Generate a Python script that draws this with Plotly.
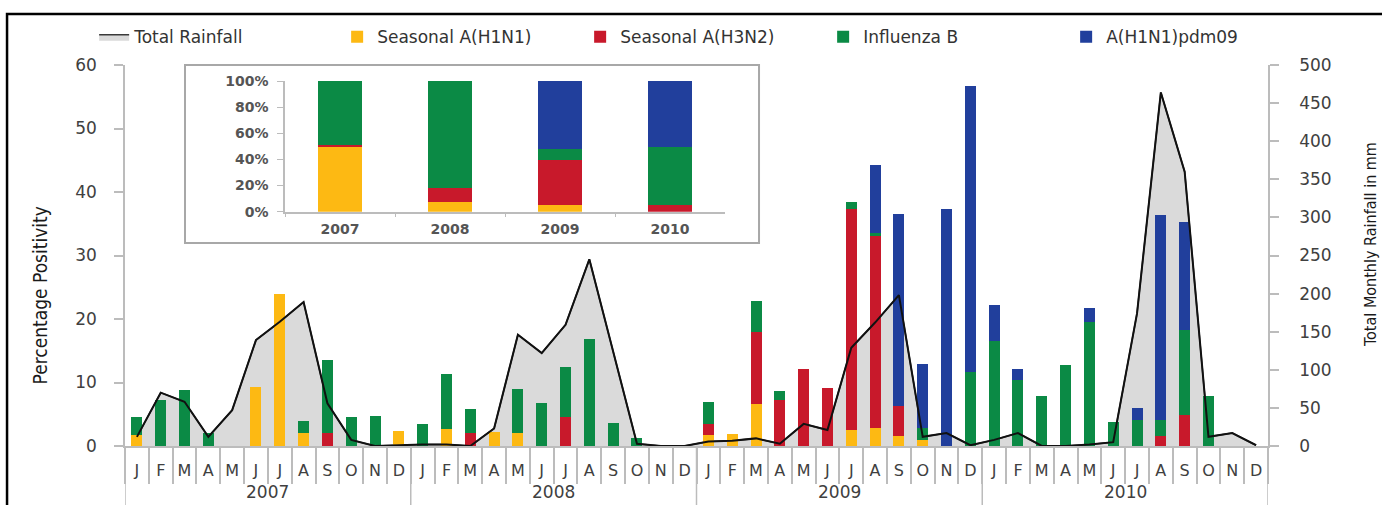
import plotly.graph_objects as go

# ---- data ---------------------------------------------------------------
years = ["2007", "2008", "2009", "2010"]
month_labels = ["J", "F", "M", "A", "M", "J", "J", "A", "S", "O", "N", "D"]

# monthly percentage positivity, Jan 2007 .. Dec 2010
h1n1_seasonal = [1.7, 0, 0, 0, 0, 9.3, 24.0, 2.0, 0, 0, 0, 2.4,
                 0, 2.6, 0, 2.2, 2.0, 0, 0, 0, 0, 0, 0, 0,
                 1.7, 1.9, 6.6, 0, 0, 0, 2.5, 2.8, 1.6, 0.9, 0, 0,
                 0, 0, 0, 0, 0, 0, 0, 0, 0, 0, 0, 0]
h3n2_seasonal = [0, 0, 0, 0, 0, 0, 0, 0, 2.0, 0, 0, 0,
                 0, 0, 2.0, 0, 0, 0, 4.5, 0, 0, 0, 0, 0,
                 1.8, 0, 11.4, 7.2, 12.2, 9.2, 34.9, 30.2, 4.7, 0, 0, 0,
                 0, 0, 0, 0, 0, 0, 0, 1.6, 4.9, 0, 0, 0]
influenza_b = [2.9, 7.2, 8.8, 2.0, 0, 0, 0, 1.9, 11.5, 4.6, 4.8, 0,
               3.4, 8.8, 3.9, 0, 7.0, 6.8, 8.0, 16.9, 3.7, 1.3, 0, 0,
               3.4, 0, 4.9, 1.5, 0, 0, 1.1, 0.6, 0, 1.9, 0, 11.7,
               16.6, 10.4, 7.9, 12.8, 19.6, 3.8, 4.1, 2.5, 13.4, 7.8, 0, 0]
pdm09 = [0, 0, 0, 0, 0, 0, 0, 0, 0, 0, 0, 0,
         0, 0, 0, 0, 0, 0, 0, 0, 0, 0, 0, 0,
         0, 0, 0, 0, 0, 0, 0, 10.7, 30.2, 10.1, 37.3, 45.0,
         5.6, 1.7, 0, 0, 2.1, 0, 1.9, 32.2, 17.0, 0, 0, 0]

# total monthly rainfall (mm)
rainfall = [12, 70, 58, 12, 47, 139, 163, 189, 56, 8, 0, 1,
            2, 2, 0, 23, 146, 122, 159, 245, 125, 3, 0, 0,
            6, 7, 10, 3, 29, 21, 129, 162, 198, 12, 17, 1,
            8, 17, 0, 0, 2, 5, 174, 464, 360, 12, 17, 1]

# yearly share of each type (%)
share_h1n1 = [49.5, 7.4, 4.8, 0.0]
share_h3n2 = [1.5, 11.0, 34.7, 5.1]
share_b = [49.0, 81.6, 8.5, 44.1]
share_pdm = [0.0, 0.0, 52.0, 50.8]

# ---- style --------------------------------------------------------------
C_H1N1 = "#FDB913"
C_H3N2 = "#C8192B"
C_B = "#0B8A45"
C_PDM = "#213F9C"
AXIS_GREY = "#bcbcbc"
TEXT = "#404040"
FONT = "DejaVu Sans"
NARROW = "Liberation Sans Narrow, DejaVu Sans Condensed, sans-serif"

n = len(rainfall)
xpos = list(range(n))
ticktext = month_labels * len(years)

fig = go.Figure()

# rainfall area (behind the bars)
fig.add_trace(go.Scatter(
    x=xpos, y=rainfall, name="Total Rainfall", mode="lines",
    fill="tozeroy", fillcolor="#dadada",
    line=dict(color="#3a3a3a", width=1.5),
    xaxis="x", yaxis="y", hoverinfo="skip"))

# monthly stacked bars
for name, vals, col in [("Seasonal A(H1N1)", h1n1_seasonal, C_H1N1),
                        ("Seasonal A(H3N2)", h3n2_seasonal, C_H3N2),
                        ("Influenza B", influenza_b, C_B),
                        ("A(H1N1)pdm09", pdm09, C_PDM)]:
    fig.add_trace(go.Bar(
        x=xpos, y=vals, name=name, marker=dict(color=col, line=dict(width=0)),
        width=0.46, xaxis="x", yaxis="y2"))

# rainfall outline drawn over the bars
fig.add_trace(go.Scatter(
    x=xpos, y=rainfall, mode="lines", showlegend=False,
    line=dict(color="#111111", width=2),
    xaxis="x", yaxis="y3", hoverinfo="skip"))

# inset: yearly composition
for vals, col in [(share_h1n1, C_H1N1), (share_h3n2, C_H3N2),
                  (share_b, C_B), (share_pdm, C_PDM)]:
    fig.add_trace(go.Bar(
        x=years, y=vals, marker=dict(color=col, line=dict(width=0)),
        width=0.4, showlegend=False, xaxis="x2", yaxis="y4"))

# ---- decorations ----------------------------------------------------------
shapes = [
    # outer frame
    dict(type="rect", xref="paper", yref="paper",
         x0=-0.1032, x1=1.2, y0=-0.4, y1=1.134,
         line=dict(color="black", width=2.5), fillcolor="rgba(0,0,0,0)",
         layer="above"),
    # inset box
    dict(type="rect", xref="paper", yref="paper",
         x0=0.0525, x1=0.5547, y0=0.533, y1=1.0,
         line=dict(color="#a8a8a8", width=2), fillcolor="white",
         layer="below"),
]
# year dividers under the month row
for b in range(len(years) + 1):
    shapes.append(dict(type="line", xref="x", yref="paper",
                       x0=b * 12 - 0.5, x1=b * 12 - 0.5, y0=0, y1=-0.157,
                       line=dict(color=AXIS_GREY, width=1.5)))

annotations = []
for i, yr in enumerate(years):
    annotations.append(dict(x=i * 12 + 5.5, y=-0.121, xref="x", yref="paper",
                            text=yr, showarrow=False, yanchor="middle",
                            font=dict(family=FONT, size=17, color=TEXT)))
annotations.append(dict(x=-0.0744, y=0.395, xref="paper", yref="paper",
                        text="Percentage Positivity", textangle=-90,
                        showarrow=False, xanchor="center", yanchor="middle",
                        font=dict(family=NARROW, size=19, color="#1a1a1a")))
annotations.append(dict(x=1.0892, y=0.53, xref="paper", yref="paper",
                        text="Total Monthly Rainfall in mm", textangle=-90,
                        showarrow=False, xanchor="center", yanchor="middle",
                        font=dict(family=NARROW, size=16, color="#1a1a1a")))

fig.update_layout(
    width=1382, height=505,
    margin=dict(l=125, r=114, t=65, b=59, autoexpand=False),
    paper_bgcolor="white", plot_bgcolor="white",
    barmode="stack", bargap=0,
    font=dict(family=FONT, color=TEXT),
    showlegend=True,
    legend=dict(orientation="h", x=-0.027, xanchor="left",
                y=1.073, yanchor="middle", traceorder="normal",
                font=dict(family=FONT, size=17, color="#333"),
                itemwidth=30, entrywidth=198, entrywidthmode="pixels",
                bgcolor="rgba(0,0,0,0)"),
    xaxis=dict(domain=[0, 1], range=[-0.5, n - 0.5],
               tickmode="array", tickvals=xpos, ticktext=ticktext,
               ticks="", showgrid=False, zeroline=False,
               showline=True, linecolor=AXIS_GREY, linewidth=1.5,
               ticklabelstandoff=9,
               tickfont=dict(family=FONT, size=16, color=TEXT),
               minor=dict(tickmode="array",
                          tickvals=[i - 0.5 for i in range(n + 1)],
                          ticks="outside", ticklen=36,
                          tickcolor=AXIS_GREY, tickwidth=1.5)),
    yaxis=dict(side="right", range=[0, 500], dtick=50,
               ticks="outside", ticklen=9, tickcolor=AXIS_GREY, tickwidth=1.5,
               showline=True, linecolor=AXIS_GREY, linewidth=1.5,
               showgrid=False, zeroline=False, ticklabelstandoff=17,
               tickfont=dict(family=FONT, size=17, color=TEXT)),
    yaxis2=dict(overlaying="y", side="left", anchor="x", range=[0, 60],
                dtick=10, ticks="outside", ticklen=9, tickcolor=AXIS_GREY,
                tickwidth=1.5, showline=True, linecolor=AXIS_GREY,
                linewidth=1.5, showgrid=False, zeroline=False,
                ticklabelstandoff=14,
                tickfont=dict(family=FONT, size=17, color=TEXT)),
    yaxis3=dict(overlaying="y", anchor="x", range=[0, 500], visible=False),
    xaxis2=dict(domain=[0.140, 0.525], anchor="y4", type="category",
                ticks="outside", tickson="boundaries", ticklen=4,
                tickcolor=AXIS_GREY, showline=True, linecolor=AXIS_GREY,
                linewidth=1.5, showgrid=False,
                tickfont=dict(family=FONT, size=14, color="#555",
                              weight="bold"),
                ticklabelstandoff=4),
    yaxis4=dict(domain=[0.615, 0.958], anchor="x2", range=[0, 100],
                dtick=20, ticksuffix="%", ticks="outside", ticklen=6,
                tickcolor=AXIS_GREY, showline=True, linecolor=AXIS_GREY,
                linewidth=1.5, showgrid=False, zeroline=False,
                ticklabelstandoff=6,
                tickfont=dict(family=FONT, size=14, color="#555",
                              weight="bold")),
    shapes=shapes, annotations=annotations,
)

fig.write_html("out.html")
